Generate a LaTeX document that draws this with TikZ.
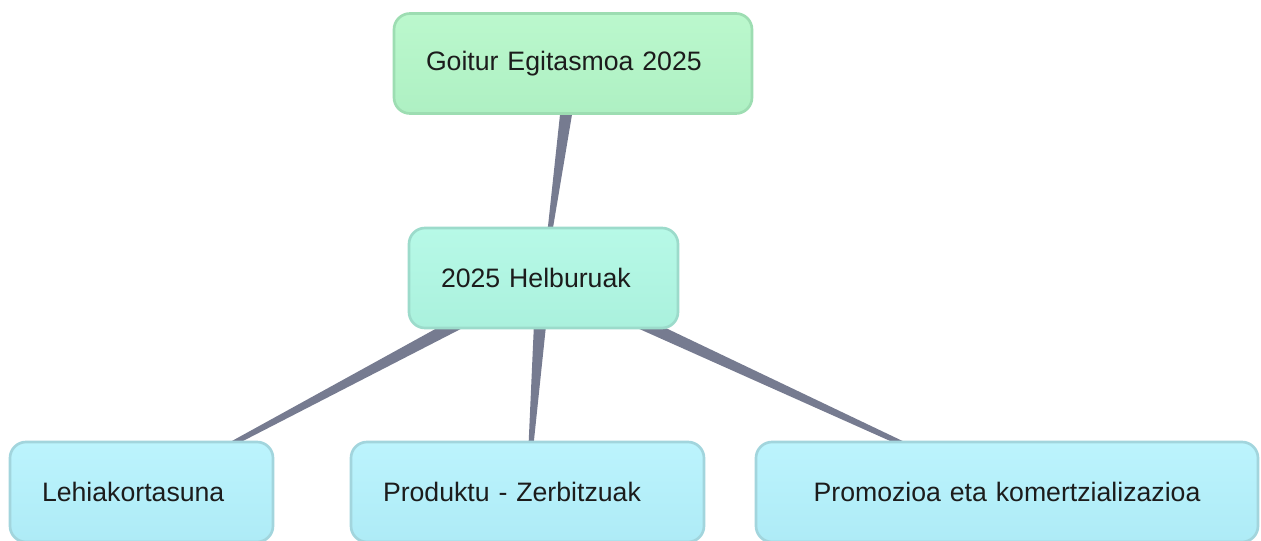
\documentclass[tikz,border=0pt]{standalone}
\usepackage{fontspec}
\setmainfont{Liberation Sans}
\usetikzlibrary{calc,backgrounds}

\definecolor{goalfill}{HTML}{BBF8CD}
\definecolor{goalfilldark}{HTML}{AEF0C3}
\definecolor{goalline}{HTML}{9DDDB2}
\definecolor{aimfill}{HTML}{B7F9E7}
\definecolor{aimfilldark}{HTML}{AAF1DD}
\definecolor{aimline}{HTML}{9CDBCB}
\definecolor{areafill}{HTML}{BCF4FD}
\definecolor{areafilldark}{HTML}{AEEBF6}
\definecolor{arealine}{HTML}{A2D5DD}
\definecolor{linkcol}{HTML}{767B90}
\definecolor{txtcol}{HTML}{1C1C1C}

% tapered connector, wide at the parent and thin at the child
\newcommand{\taper}[2]{%
  \fill[linkcol] ($(#1)!5.6pt!90:(#2)$) -- ($(#1)!5.6pt!-90:(#2)$)
    -- ($(#2)!0.8pt!90:(#1)$) -- ($(#2)!0.8pt!-90:(#1)$) -- cycle;}

\begin{document}
\begin{tikzpicture}[
  x=0.75pt, y=0.75pt,
  box/.style={rectangle, rounded corners=12pt, line width=2pt,
    minimum height=75pt, inner xsep=24pt, text width=#1, align=left,
    text=txtcol, font=\fontsize{20}{24}\selectfont},
  goal/.style={box=#1, draw=goalline, top color=goalfill, bottom color=goalfilldark},
  aim/.style={box=#1, draw=aimline, top color=aimfill, bottom color=aimfilldark},
  area/.style={box=#1, draw=arealine, top color=areafill, bottom color=areafilldark}
  ]

\useasboundingbox (0,0) rectangle (1261,540);

\node [goal=220.5pt] (goitur) at (573,476.5) {Goitur Egitasmoa 2025};
\node [aim=153.75pt] (helburu) at (543.5,262) {2025 Helburuak};

\node [area=149.25pt] (lehia) at (141.5,48) {Lehiakortasuna};
\node [area=216.75pt] (produktu) at (527.5,48) {Produktu - Zerbitzuak};
\node [area=328.5pt, align=center] (promo) at (1007,48) {Promozioa eta komertzializazioa};

\begin{scope}[on background layer]
  \taper{goitur}{helburu}
  \taper{helburu}{lehia}
  \taper{helburu}{produktu}
  \taper{helburu}{promo}
\end{scope}

\end{tikzpicture}
\end{document}
